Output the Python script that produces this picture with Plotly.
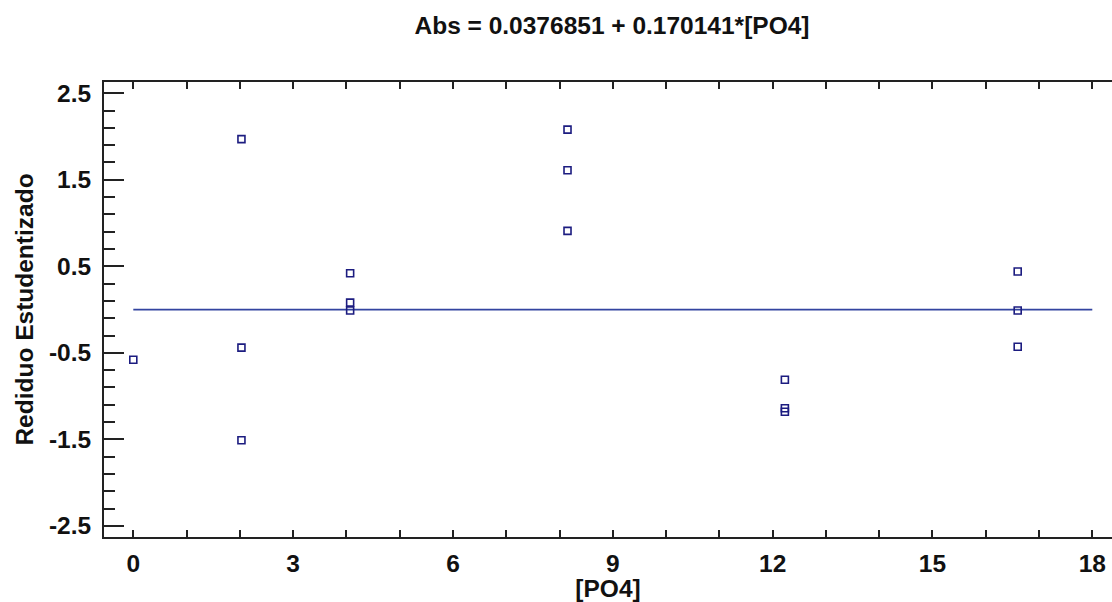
import plotly.graph_objects as go

# Data
x_po4 = [0.0, 2.03, 2.03, 2.03, 4.07, 4.07, 4.07, 8.15, 8.15, 8.15, 12.23, 12.23, 12.23, 16.6, 16.6, 16.6]
resid = [-0.58, 1.97, -0.44, -1.51, 0.42, 0.08, -0.01, 2.08, 1.61, 0.91, -0.81, -1.14, -1.18, 0.44, -0.01, -0.43]
line_x = [0, 18]
line_y = [0, 0]
x_tickvals = list(range(0, 19))
x_ticktext = [str(v) if v % 3 == 0 else "" for v in x_tickvals]
y_tickvals = [-2.5, -1.5, -0.5, 0.5, 1.5, 2.5]
y_ticktext = ["-2.5", "-1.5", "-0.5", "0.5", "1.5", "2.5"]

FONT = "Liberation Sans, Arial, sans-serif"
AXC = "#222222"
TXT = "#111111"
FS = 24.5

def bfont(size=FS):
    return dict(family=FONT, size=size, color=TXT, weight="bold")

fig = go.Figure()
fig.add_trace(go.Scatter(x=line_x, y=line_y, mode="lines",
                         line=dict(color="#3344a0", width=1.6),
                         hoverinfo="skip", showlegend=False))
fig.add_trace(go.Scatter(x=x_po4, y=resid, mode="markers",
                         marker=dict(symbol="square-open", size=7, color="#1c1c80",
                                     line=dict(width=1.6, color="#1c1c80")),
                         showlegend=False))

yrange = [-2.628, 2.63]
fig.update_layout(
    width=1112, height=602,
    margin=dict(l=104, r=0, t=82, b=65),
    plot_bgcolor="white", paper_bgcolor="white",
    font=bfont(),
    title=dict(text="Abs = 0.0376851 + 0.170141*[PO4]",
               x=612/1112, xref="container", xanchor="center",
               y=1 - 25/602, yref="container", yanchor="middle",
               font=bfont(FS)),
    xaxis=dict(range=[-0.55, 18.37], tickmode="array", tickvals=x_tickvals, ticktext=x_ticktext,
               ticks="inside", ticklen=7, tickwidth=2, tickcolor=AXC,
               showline=True, linewidth=2, linecolor=AXC, mirror="allticks",
               showgrid=False, zeroline=False,
               tickfont=bfont(), ticklabelstandoff=4,
               title=dict(text="[PO4]", standoff=0, font=bfont())),
    yaxis=dict(range=yrange, tickmode="array", tickvals=y_tickvals, ticktext=y_ticktext,
               ticks="inside", ticklen=20, tickwidth=2, tickcolor=AXC,
               minor=dict(dtick=0.2, tick0=0.5, ticks="inside", ticklen=11, tickwidth=2, tickcolor=AXC),
               showline=True, linewidth=2, linecolor=AXC, mirror=False,
               showgrid=False, zeroline=False,
               tickfont=bfont(), ticklabelstandoff=6,
               title=dict(text="Rediduo Estudentizado", standoff=8, font=bfont())),
    yaxis2=dict(range=yrange, overlaying="y", side="right", anchor="x",
                tickmode="array", tickvals=y_tickvals, showticklabels=False,
                ticks="inside", ticklen=10, tickwidth=2, tickcolor=AXC,
                minor=dict(dtick=0.2, tick0=0.5, ticks="inside", ticklen=2, tickwidth=2, tickcolor=AXC),
                showline=False, showgrid=False, zeroline=False),
)

fig.write_html("out.html")
